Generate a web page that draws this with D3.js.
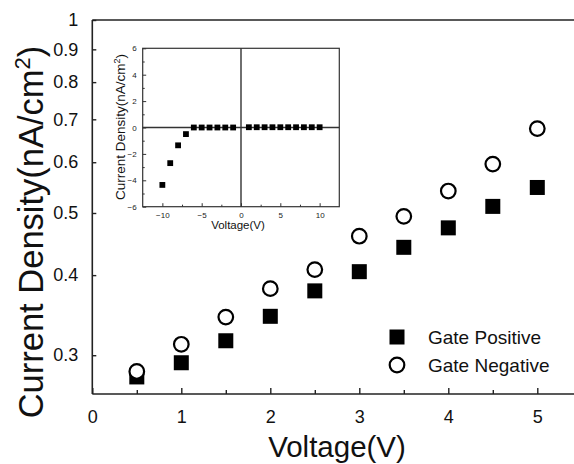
<!DOCTYPE html>
<html>
<head>
<meta charset="utf-8">
<script src="https://cdn.jsdelivr.net/npm/d3@7"></script>
<style>
  html, body { margin: 0; padding: 0; background: #fff; }
  svg { display: block; font-family: "Liberation Sans", Arial, Helvetica, sans-serif; }
</style>
</head>
<body>
<svg id="chart" width="574" height="464"></svg>
<script>
// ---- Main chart data ----
const voltage = [0.5, 1, 1.5, 2, 2.5, 3, 3.5, 4, 4.5, 5];
const gatePositive = [0.2775, 0.292, 0.316, 0.345, 0.378, 0.405, 0.442, 0.474, 0.512, 0.548];
const gateNegative = [0.283, 0.312, 0.344, 0.381, 0.408, 0.460, 0.494, 0.541, 0.596, 0.677];
const xTickValues = [0, 1, 2, 3, 4, 5];
const xMinorTickValues = [0.5, 1.5, 2.5, 3.5, 4.5];
const yTickValues = [0.3, 0.4, 0.5, 0.6, 0.7, 0.8, 0.9, 1];
const yTickLabels = ["0.3", "0.4", "0.5", "0.6", "0.7", "0.8", "0.9", "1"];
const seriesNames = ["Gate Positive", "Gate Negative"];

// ---- Inset data ----
const insetVoltage = [-10, -9, -8, -7, -6, -5, -4, -3, -2, -1, 1, 2, 3, 4, 5, 6, 7, 8, 9, 10];
const insetCurrent = [-4.35, -2.7, -1.35, -0.5, 0, 0, 0, 0, 0, 0, 0.02, 0.02, 0.02, 0.02, 0.02, 0.02, 0.02, 0.02, 0.02, 0.02];
const insetXTicks = [-10, -5, 0, 5, 10];
const insetXMinor = [-7.5, -2.5, 2.5, 7.5];
const insetYTicks = [-6, -4, -2, 0, 2, 4, 6];
const insetYMinor = [-5, -3, -1, 1, 3, 5];

const svg = d3.select("#chart");
const axisColor = "#222";

// ---- Main scales ----
const x = d3.scaleLinear().domain([0, 5.5]).range([92.3, 92.3 + 89 * 5.5]);
const y = d3.scaleLog().domain([0.261, 1]).range([394, 20]);

const main = svg.append("g");

// Frame lines: left, bottom, top (right side is beyond the window)
main.append("line").attr("x1", x(0)).attr("x2", x(0)).attr("y1", y(1)).attr("y2", y(0.261))
  .attr("stroke", axisColor).attr("stroke-width", 1.6);
main.append("line").attr("x1", x(0)).attr("x2", x(5.5)).attr("y1", y(0.261)).attr("y2", y(0.261))
  .attr("stroke", axisColor).attr("stroke-width", 1.6);
main.append("line").attr("x1", x(0)).attr("x2", x(5.5)).attr("y1", y(1)).attr("y2", y(1))
  .attr("stroke", axisColor).attr("stroke-width", 1.6);

// X axis (ticks inward)
const xAxis = d3.axisBottom(x).tickValues(xTickValues).tickSize(-6).tickPadding(16)
  .tickFormat(d3.format("d"));
const gx = main.append("g").attr("transform", `translate(0,${y(0.261)})`).call(xAxis);
gx.select(".domain").remove();
gx.selectAll(".tick line").attr("stroke", axisColor).attr("stroke-width", 1.4);
gx.selectAll(".tick text").attr("font-size", 18).attr("fill", "#111")
  .attr("font-family", "'Liberation Sans', Arial, sans-serif");
const gxm = main.append("g").attr("transform", `translate(0,${y(0.261)})`)
  .call(d3.axisBottom(x).tickValues(xMinorTickValues).tickSize(-4).tickFormat(""));
gxm.select(".domain").remove();
gxm.selectAll(".tick line").attr("stroke", axisColor).attr("stroke-width", 1.4);

// Y axis (log, ticks inward)
const yAxis = d3.axisLeft(y).tickValues(yTickValues).tickSize(-4).tickPadding(14)
  .tickFormat((d, i) => yTickLabels[i]);
const gy = main.append("g").attr("transform", `translate(${x(0)},0)`).call(yAxis);
gy.select(".domain").remove();
gy.selectAll(".tick line").attr("stroke", axisColor).attr("stroke-width", 1.4);
gy.selectAll(".tick text").attr("font-size", 18).attr("fill", "#111")
  .attr("font-family", "'Liberation Sans', Arial, sans-serif");

// Axis titles
main.append("text").attr("x", 337).attr("y", 457)
  .attr("text-anchor", "middle").attr("font-size", 29.5).attr("fill", "#111")
  .text("Voltage(V)");
const yt = main.append("text").attr("transform", "translate(43,232) rotate(-90)")
  .attr("text-anchor", "middle").attr("font-size", 34.5).attr("fill", "#111");
yt.append("tspan").text("Current Density(nA/cm");
yt.append("tspan").attr("dy", -13).attr("font-size", 22).text("2");
yt.append("tspan").attr("dy", 13).text(")");

// Data markers
const sq = 15;
main.append("g").selectAll("rect").data(voltage).join("rect")
  .attr("x", (d) => x(d) - sq / 2)
  .attr("y", (d, i) => y(gatePositive[i]) - sq / 2)
  .attr("width", sq).attr("height", sq).attr("fill", "#000");
main.append("g").selectAll("circle").data(voltage).join("circle")
  .attr("cx", (d) => x(d))
  .attr("cy", (d, i) => y(gateNegative[i]))
  .attr("r", 7.3).attr("fill", "#fff").attr("stroke", "#000").attr("stroke-width", 2.2);

// Legend
const lg = main.append("g");
lg.append("rect").attr("x", 397 - 7.5).attr("y", 337 - 7.5).attr("width", 15).attr("height", 15).attr("fill", "#000");
lg.append("circle").attr("cx", 397).attr("cy", 365).attr("r", 7.3)
  .attr("fill", "#fff").attr("stroke", "#000").attr("stroke-width", 2.2);
lg.selectAll("text").data(seriesNames).join("text")
  .attr("x", 428).attr("y", (d, i) => 343.5 + i * 28.3)
  .attr("font-size", 19).attr("fill", "#111").text((d) => d);

// ---- Inset ----
const ix = d3.scaleLinear().domain([-12.5, 12.5]).range([142.7, 339.3]);
const iy = d3.scaleLinear().domain([-6, 6]).range([206.7, 48.3]);
const inset = svg.append("g");
inset.append("rect").attr("x", ix(-12.5)).attr("y", iy(6))
  .attr("width", ix(12.5) - ix(-12.5)).attr("height", iy(-6) - iy(6))
  .attr("fill", "#fff").attr("stroke", "#333").attr("stroke-width", 1.2);

// zero lines
inset.append("line").attr("x1", ix(-12.5)).attr("x2", ix(12.5)).attr("y1", iy(0)).attr("y2", iy(0))
  .attr("stroke", "#333").attr("stroke-width", 1.4);
inset.append("line").attr("x1", ix(0)).attr("x2", ix(0)).attr("y1", iy(6)).attr("y2", iy(-6))
  .attr("stroke", "#333").attr("stroke-width", 1.4);

const ixAxis = inset.append("g").attr("transform", `translate(0,${iy(-6)})`)
  .call(d3.axisBottom(ix).tickValues(insetXTicks).tickSize(-3.5).tickPadding(6).tickFormat(d3.format("d")));
ixAxis.select(".domain").remove();
ixAxis.selectAll(".tick line").attr("stroke", "#333");
ixAxis.selectAll(".tick text").attr("font-size", 8).attr("fill", "#222")
  .attr("font-family", "'Liberation Sans', Arial, sans-serif");
const ixMinor = inset.append("g").attr("transform", `translate(0,${iy(-6)})`)
  .call(d3.axisBottom(ix).tickValues(insetXMinor).tickSize(-2).tickFormat(""));
ixMinor.select(".domain").remove();
ixMinor.selectAll(".tick line").attr("stroke", "#333");

const iyAxis = inset.append("g").attr("transform", `translate(${ix(-12.5)},0)`)
  .call(d3.axisLeft(iy).tickValues(insetYTicks).tickSize(-3.5).tickPadding(6).tickFormat(d3.format("d")));
iyAxis.select(".domain").remove();
iyAxis.selectAll(".tick line").attr("stroke", "#333");
iyAxis.selectAll(".tick text").attr("font-size", 8).attr("fill", "#222")
  .attr("font-family", "'Liberation Sans', Arial, sans-serif");
const iyMinor = inset.append("g").attr("transform", `translate(${ix(-12.5)},0)`)
  .call(d3.axisLeft(iy).tickValues(insetYMinor).tickSize(-2).tickFormat(""));
iyMinor.select(".domain").remove();
iyMinor.selectAll(".tick line").attr("stroke", "#333");

inset.append("text").attr("x", 238).attr("y", 229)
  .attr("text-anchor", "middle").attr("font-size", 11.5).attr("fill", "#111").text("Voltage(V)");
const iyt = inset.append("text").attr("transform", "translate(125,127) rotate(-90)")
  .attr("text-anchor", "middle").attr("font-size", 13.5).attr("fill", "#111");
iyt.append("tspan").text("Current Density(nA/cm");
iyt.append("tspan").attr("dy", -5).attr("font-size", 9).text("2");
iyt.append("tspan").attr("dy", 5).text(")");

const isq = 5.8;
inset.append("g").selectAll("rect").data(insetVoltage).join("rect")
  .attr("x", (d) => ix(d) - isq / 2)
  .attr("y", (d, i) => iy(insetCurrent[i]) - isq / 2)
  .attr("width", isq).attr("height", isq).attr("fill", "#000");
</script>
</body>
</html>
